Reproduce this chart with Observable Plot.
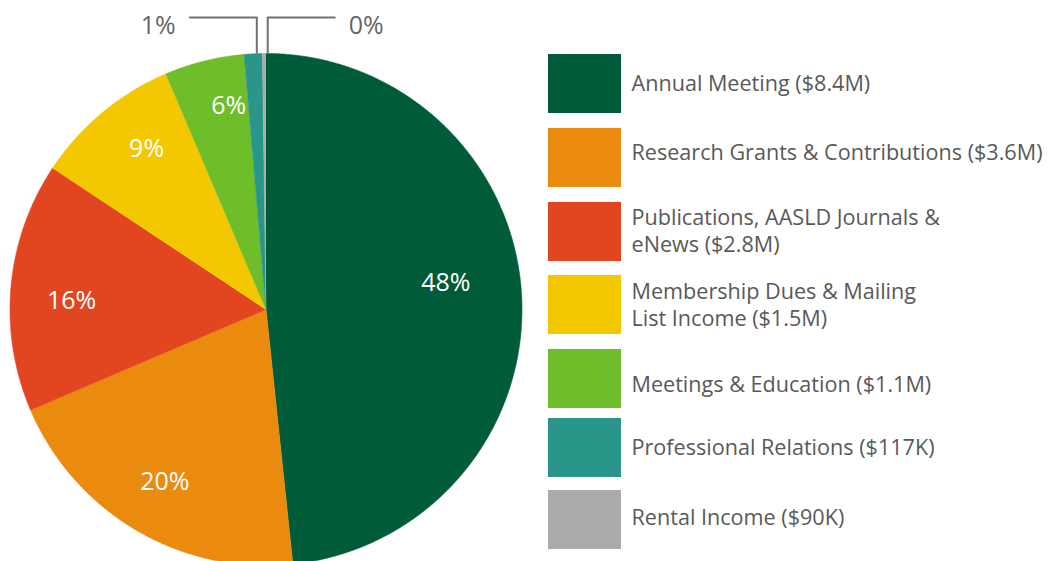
<!DOCTYPE html>
<html>
<head>
<meta charset="utf-8">
<script src="https://cdn.jsdelivr.net/npm/d3@7"></script>
<script src="https://cdn.jsdelivr.net/npm/@observablehq/plot@0.6"></script>
<style>
  html, body { margin: 0; padding: 0; background: #fff; }
  #chart svg { display: block; }
</style>
</head>
<body>
<div id="chart"></div>
<script>
// ---- data ----
const categories = [
  "Annual Meeting",
  "Research Grants & Contributions",
  "Publications, AASLD Journals &\neNews",
  "Membership Dues & Mailing\nList Income",
  "Meetings & Education",
  "Professional Relations",
  "Rental Income"
];
const amounts = ["$8.4M", "$3.6M", "$2.8M", "$1.5M", "$1.1M", "$117K", "$90K"];
// slice shares as drawn in the picture (percent of the circle)
const shares = [48.33, 20.25, 15.74, 9.29, 5.03, 1.14, 0.22];
const pctLabels = ["48%", "20%", "16%", "9%", "6%", "1%", "0%"];
const colors = ["#005c38", "#ea8a0e", "#e14620", "#f4c800", "#6ebd2a", "#2a968a", "#ababab"];

// ---- layout ----
const W = 1053, H = 561;
const cx = 265.5, cy = 309, R = 256;
const legendX1 = 548, legendX2 = 621, legendBoxH = 59, legendTextX = 631;
const legendTop = [54, 128, 202, 275, 349, 418, 490];
const legendBaseline = [90, 159, 251, 325, 391, 454, 524];
const insideLabelRadius = [0.71, 0.78, 0.76, 0.78, 0.81];
const insideLabelShift = [-5.5, 0, -2.6, 3, 3.6];
const leaderY = 17, leaderLen = 67, leaderGap = 14, outsideLabelY = 25;

// ---- geometry from data ----
const total = d3.sum(shares);
let acc = 0;
const slices = shares.map((v, i) => {
  const a0 = acc / total * 360;
  acc += v;
  const a1 = acc / total * 360;
  return {i, category: categories[i], a0, a1, mid: (a0 + a1) / 2};
});
const rad = a => a * Math.PI / 180;
const px = (a, r) => cx + r * Math.sin(rad(a));
const py = (a, r) => cy - r * Math.cos(rad(a));

const slicePts = [];
for (const s of slices) {
  slicePts.push({category: s.category, x: cx, y: cy});
  const n = Math.max(2, Math.ceil((s.a1 - s.a0) / 0.25));
  for (let k = 0; k <= n; k++) {
    const a = s.a0 + (s.a1 - s.a0) * k / n;
    slicePts.push({category: s.category, x: px(a, R), y: py(a, R)});
  }
}

const inside = slices.slice(0, 5).map((s, j) => {
  const a = s.mid + insideLabelShift[j];
  const r = R * insideLabelRadius[j];
  return {label: pctLabels[s.i], x: px(a, r), y: py(a, r)};
});

// leaders for the two tiny slices
const leaderPts = [];
const outsideLeft = [], outsideRight = [];
[5, 6].forEach((i, k) => {
  const s = slices[i];
  const dir = k === 0 ? -1 : 1;
  const x0 = px(s.mid, R) + 3.5;
  const y0 = py(s.mid, R) - 1;
  const xe = x0 + dir * leaderLen;
  leaderPts.push({id: i, x: x0, y: y0}, {id: i, x: x0, y: leaderY}, {id: i, x: xe, y: leaderY});
  (dir < 0 ? outsideLeft : outsideRight).push({label: pctLabels[i], x: xe + dir * leaderGap, y: outsideLabelY});
});

const legend = categories.map((c, i) => {
  const parts = c.split("\n");
  parts[parts.length - 1] += ` (${amounts[i]})`;
  return {category: c, text: parts.join("\n"), y1: legendTop[i], y2: legendTop[i] + legendBoxH, yb: legendBaseline[i]};
});

const font = "'Open Sans', 'Noto Sans', sans-serif";

const chart = Plot.plot({
  width: W,
  height: H,
  margin: 0,
  style: {fontFamily: font, background: "#fff"},
  x: {domain: [0, W], range: [0, W], axis: null},
  y: {domain: [0, H], range: [0, H], axis: null},
  color: {domain: categories, range: colors},
  marks: [
    Plot.line(slicePts, {x: "x", y: "y", z: "category", fill: "category", stroke: "category", strokeWidth: 0.6, curve: "linear"}),
    Plot.text(inside, {x: "x", y: "y", text: "label", fill: "#fff", fontSize: 25, fontWeight: 400, lineAnchor: "middle"}),
    Plot.line(leaderPts, {x: "x", y: "y", z: "id", stroke: "#707070", strokeWidth: 2, curve: "linear"}),
    Plot.text(outsideLeft, {x: "x", y: "y", text: "label", textAnchor: "end", fill: "#666", fontSize: 25, lineAnchor: "middle"}),
    Plot.text(outsideRight, {x: "x", y: "y", text: "label", textAnchor: "start", fill: "#666", fontSize: 25, lineAnchor: "middle"}),
    Plot.rect(legend, {x1: legendX1, x2: legendX2, y1: "y1", y2: "y2", fill: "category"}),
    Plot.text(legend, {x: legendTextX, y: "yb", text: "text", textAnchor: "start", lineAnchor: "bottom", lineHeight: 1.24, fill: "#595959", fontSize: 21.6})
  ]
});
document.getElementById("chart").appendChild(chart);
</script>
</body>
</html>
